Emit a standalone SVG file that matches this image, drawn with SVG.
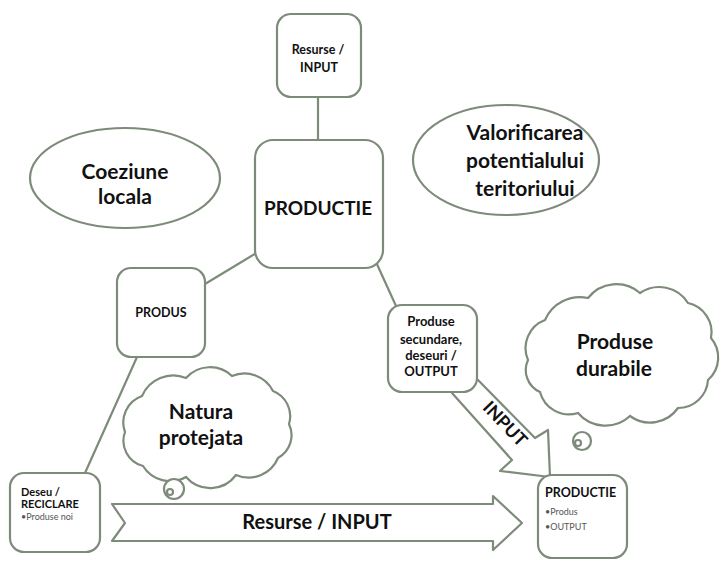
<svg xmlns="http://www.w3.org/2000/svg" width="721" height="561" viewBox="0 0 721 561">
<style>
.s{fill:none;stroke:#7d8b7a;stroke-width:2.2;stroke-linejoin:round;stroke-linecap:round}
.b{fill:#fff;stroke:#7d8b7a;stroke-width:2.2}
.t{font-family:Lato,"Open Sans",sans-serif;font-weight:bold;fill:#111;text-anchor:middle}
.l{font-family:Lato,"Open Sans",sans-serif;font-weight:bold;fill:#111}
.big{font-size:21px}
.xs{font-size:9px;font-weight:normal;fill:#555}
</style>
<rect width="721" height="561" fill="#fff"/>
<g id="connectors">
<line class="s" x1="318" y1="97" x2="318" y2="140"/>
<line class="s" x1="258" y1="252" x2="205" y2="284"/>
<line class="s" x1="376" y1="262" x2="396" y2="306"/>
<line class="s" x1="137" y1="357" x2="85" y2="473"/>
<g id="arrow-input-diag">
<path class="s" d="M478,380 L535,438 L548,430 L550,477 L500,471 L512,460 L452,393"/>
<text class="t" font-size="18" transform="translate(505,424) rotate(46)" dy="6">INPUT</text>
</g>
<g id="arrow-input-horiz">
<path class="s" d="M112,504 L493,504 L493,496 L522,523 L493,550 L493,541 L112,541 L125,523 Z"/>
<text class="t" font-size="20" x="317" y="529">Resurse / INPUT</text>
</g>
</g>
<g id="resurse-input">
<rect class="b" x="277" y="14" width="84" height="83" rx="14"/>
<text class="t" font-size="12.5" x="318" y="54">Resurse /</text>
<text class="t" font-size="12.5" x="319" y="72">INPUT</text>
</g>
<g id="productie">
<rect class="b" x="255" y="140" width="128" height="128" rx="18"/>
<text class="t" font-size="19" x="318" y="215">PRODUCTIE</text>
</g>
<g id="coeziune">
<ellipse class="b" cx="125" cy="178" rx="95" ry="50"/>
<text class="t big" x="125" y="179">Coeziune</text>
<text class="t big" x="125" y="204">locala</text>
</g>
<g id="valorificarea">
<ellipse class="b" cx="506" cy="160" rx="93" ry="55"/>
<text class="t big" x="525" y="140">Valorificarea</text>
<text class="t big" x="525" y="168">potentialului</text>
<text class="t big" x="525" y="196">teritoriului</text>
</g>
<g id="produs">
<rect class="b" x="117" y="268" width="88" height="89" rx="14"/>
<text class="t" font-size="12.5" x="161" y="317">PRODUS</text>
</g>
<g id="produse-secundare">
<rect class="b" x="388" y="305" width="89" height="87" rx="14"/>
<text class="t" font-size="13" x="431" y="326">Produse</text>
<text class="t" font-size="13" x="431" y="344">secundare,</text>
<text class="t" font-size="13" x="431" y="360">deseuri /</text>
<text class="t" font-size="13" x="431" y="376">OUTPUT</text>
</g>
<g id="produse-durabile">
<path class="b" d="M528,360 A30,30 0 0 1 545,320 A38,38 0 0 1 588,298 A36,36 0 0 1 640,293 A34,34 0 0 1 688,303 A30,30 0 0 1 711,338 A30,30 0 0 1 708,380 A30,30 0 0 1 678,408 A34,34 0 0 1 630,416 A36,36 0 0 1 578,413 A30,30 0 0 1 540,392 A24,24 0 0 1 528,360 Z"/>
<circle class="b" cx="582" cy="441" r="9"/>
<circle class="b" cx="578" cy="443" r="3"/>
<text class="t big" x="615" y="349">Produse</text>
<text class="t big" x="614" y="376">durabile</text>
</g>
<g id="natura-protejata">
<path class="b" d="M125,432 A28,28 0 0 1 142,396 A34,34 0 0 1 186,378 A32,32 0 0 1 232,376 A32,32 0 0 1 273,391 A27,27 0 0 1 289,424 A26,26 0 0 1 278,458 A32,32 0 0 1 236,475 A32,32 0 0 1 186,477 A32,32 0 0 1 143,466 A26,26 0 0 1 125,432 Z"/>
<circle class="b" cx="174" cy="489" r="10"/>
<circle class="b" cx="170" cy="492" r="3"/>
<text class="t big" x="201" y="419">Natura</text>
<text class="t big" x="201" y="445">protejata</text>
</g>
<g id="deseu-reciclare">
<rect class="b" x="10" y="473" width="90" height="79" rx="14"/>
<text class="l" font-size="11" x="21" y="496">Deseu /</text>
<text class="l" font-size="11" x="21" y="508">RECICLARE</text>
<text class="l xs" x="21" y="520">•Produse noi</text>
</g>
<g id="productie-small">
<rect class="b" x="538" y="475" width="89" height="83" rx="14"/>
<text class="l" font-size="12.5" x="545" y="497">PRODUCTIE</text>
<text class="l xs" x="545" y="515">•Produs</text>
<text class="l xs" x="545" y="530">•OUTPUT</text>
</g>
</svg>
